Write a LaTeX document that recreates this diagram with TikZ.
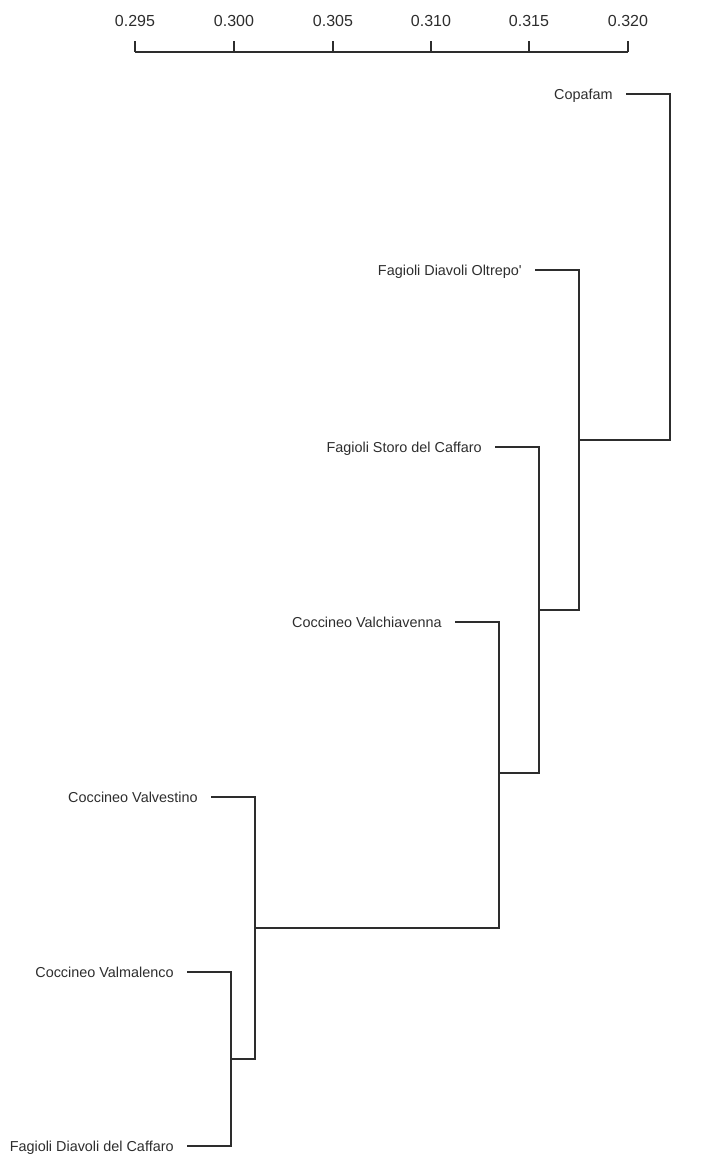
\documentclass[tikz,border=0pt]{standalone}
\usepackage{fontspec}
\setmainfont{Liberation Sans}
\usepackage{tikz}
\usetikzlibrary{calc}
\definecolor{inkcolor}{RGB}{45,45,45}

\begin{document}
\begin{tikzpicture}[x=0.5pt,y=-0.5pt,
    leaf/.style={anchor=east,inner xsep=6.5pt,inner ysep=0pt,text height=5.2pt,text depth=0pt,
      font=\fontsize{7.2}{8.6}\selectfont,text=inkcolor},
    ticklbl/.style={font=\fontsize{8}{9.5}\selectfont,text=inkcolor},
    tree/.style={draw=inkcolor,line width=0.6pt}]
  \useasboundingbox (0,0) rectangle (706,1156);
  % scale
  \draw[tree] (135,52) -- (628,52);
  \foreach \v/\x in {0.295/135,0.300/234,0.305/333,0.310/431,0.315/529,0.320/628}
    \draw[tree] (\x,52) -- (\x,41) node[ticklbl,above=3.5pt] {\v};
  % leaves
  \node[leaf] (cop) at (626,94)   {Copafam};
  \node[leaf] (olt) at (535,270)  {Fagioli Diavoli Oltrepo\textquotesingle};
  \node[leaf] (sto) at (495,447)  {Fagioli Storo del Caffaro};
  \node[leaf] (vch) at (455,622)  {Coccineo Valchiavenna};
  \node[leaf] (vve) at (211,797)  {Coccineo Valvestino};
  \node[leaf] (vma) at (187,972)  {Coccineo Valmalenco};
  \node[leaf] (caf) at (187,1146) {Fagioli Diavoli del Caffaro};
  % joins
  \coordinate (j1) at (670,440);
  \coordinate (j2) at (579,440);
  \coordinate (j3) at (539,610);
  \coordinate (j4) at (499,773);
  \coordinate (j5) at (255,928);
  \coordinate (j6) at (231,1059);
  \draw[tree] (cop.east) -| (j1) -- (j2);
  \draw[tree] (olt.east) -| (j2) |- (j3);
  \draw[tree] (sto.east) -| (j3) |- (j4);
  \draw[tree] (vch.east) -| (j4) |- (j5);
  \draw[tree] (vve.east) -| (j5) |- (j6);
  \draw[tree] (vma.east) -| (j6) |- (caf.east);
\end{tikzpicture}
\end{document}
